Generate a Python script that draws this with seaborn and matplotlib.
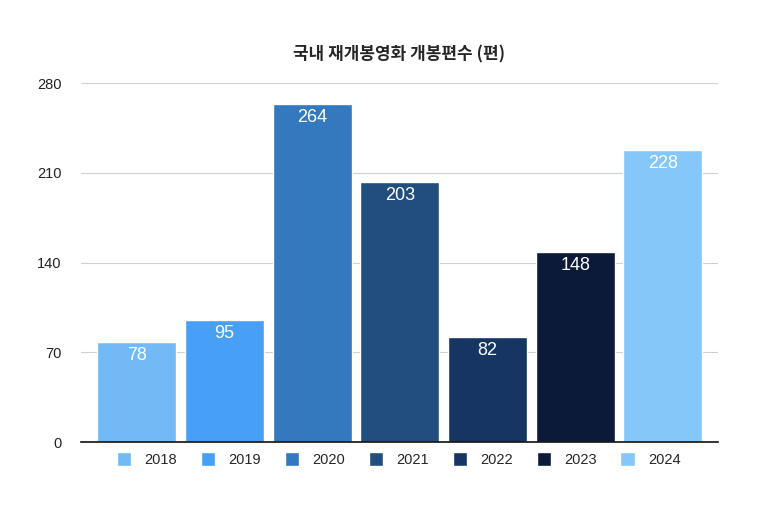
import pandas as pd
import seaborn as sns
import matplotlib.pyplot as plt

years = ["2018", "2019", "2020", "2021", "2022", "2023", "2024"]
counts = [78, 95, 264, 203, 82, 148, 228]
colors = ["#72BAF5", "#47A0F6", "#3478BD", "#224E7E", "#163563", "#0A1A38", "#84C7F8"]
yticks = [0, 70, 140, 210, 280]

df = pd.DataFrame({"year": years, "count": counts})

sns.set_style("white")
plt.rcParams['font.family'] = ['Liberation Sans', 'Noto Sans CJK KR', 'DejaVu Sans']

fig = plt.figure(figsize=(7.8, 5.13), dpi=100)
ax = fig.add_axes([0.104, 0.138, 0.816, 0.700])

sns.barplot(data=df, x="year", y="count", hue="year", palette=colors,
            dodge=False, width=0.9, saturation=1, legend=True, ax=ax, zorder=3)

for i, v in enumerate(counts):
    ax.text(i, v - 10.5, str(v), ha="center", va="center", color="white", fontsize=13)

ax.set_ylim(0, 280)
ax.set_xlim(-0.636, 6.625)
ax.set_yticks(yticks)
ax.yaxis.grid(True, color="#d0d0d0", linewidth=0.8, zorder=0)
ax.set_xticks([])
ax.set_xlabel("")
ax.set_ylabel("")
ax.tick_params(axis="y", length=0, pad=14, labelsize=10.5, colors="#222222")
for s in ["top", "right", "left"]:
    ax.spines[s].set_visible(False)
ax.spines["bottom"].set_color("#111111")
ax.spines["bottom"].set_linewidth(1.2)
ax.spines["bottom"].set_zorder(4)

ax.legend(ncol=7, loc="upper center", bbox_to_anchor=(0.499, 0.008), frameon=False,
          handlelength=1.0, handleheight=1.0, handletextpad=0.9, columnspacing=1.62,
          fontsize=10.5)

fig.text(0.512, 0.893, "국내 재개봉영화 개봉편수 (편)", ha="center", va="center",
         fontsize=12.2, fontweight="bold", family=['Noto Sans CJK KR', 'DejaVu Sans'])

plt.savefig("out.png", dpi=100)
